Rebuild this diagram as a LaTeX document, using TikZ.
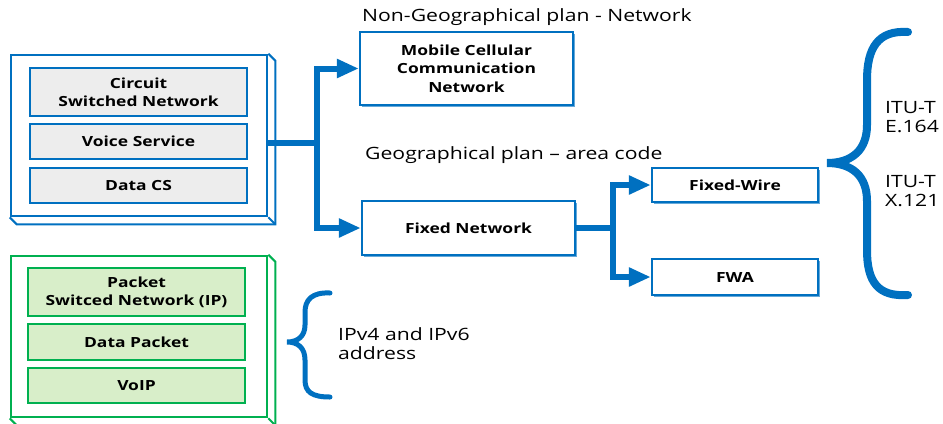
\documentclass[tikz,border=0pt]{standalone}
\usepackage{fontspec}
\setmainfont{Open Sans}[FakeStretch=1.25]
\usepackage{tikz}
\usetikzlibrary{arrows.meta}
\usetikzlibrary{calc}
\usetikzlibrary{positioning}
\usetikzlibrary{shadows}
\definecolor{itublue}{HTML}{0070C0}
\definecolor{ipgreen}{HTML}{00B050}
\definecolor{ipfill}{HTML}{D8EEC9}
\definecolor{csfill}{HTML}{EDEDED}

\begin{document}
\begin{tikzpicture}[x=1bp, y=-1bp,
    frame/.style={draw, line width=2.6bp, minimum width=256bp, minimum height=161bp},
    layer/.style={draw, line width=2.4bp, minimum width=217bp, align=center, inner sep=0pt,
      font=\bfseries\fontsize{14}{18}\selectfont},
    netbox/.style={draw=itublue, line width=2.4bp, fill=white, align=center, inner sep=0pt,
      font=\bfseries\fontsize{14}{18.5}\selectfont,
      drop shadow={shadow xshift=2bp, shadow yshift=-2bp, fill=itublue, opacity=0.6}},
    link/.style={itublue, line width=6bp},
    arr/.style={link, -{Triangle[length=22bp, width=18bp]}},
    brace/.style={itublue, line cap=round},
    lbl/.style={font=\fontsize{17}{19}\selectfont, align=left, anchor=west, inner sep=0pt}]
    \useasboundingbox (0,0) rectangle (943,423);

    \node[frame, draw=itublue] (A) at (139,135.5) {};
    \node[layer, draw=itublue, fill=csfill, minimum height=48bp] (A1) at (138.5,92) {Circuit\\Switched Network};
    \node[layer, draw=itublue, fill=csfill, minimum height=35bp] (A2) at (138.5,141.5) {Voice Service};
    \node[layer, draw=itublue, fill=csfill, minimum height=35bp] (A3) at (138.5,185.5) {Data CS};
    \draw[itublue, line width=2bp] (A.north east) -- ++(7,7) -- ($(A.south east)+(7,7)$) -- ($(A.south west)+(7,7)$) -- (A.south west);
    \draw[itublue, line width=2bp] (A.south east) -- ++(7,7);

    \node[frame, draw=ipgreen] (B) at (139,336.5) {};
    \node[layer, draw=ipgreen, fill=ipfill, minimum height=48bp] (B1) at (136.5,292) {Packet\\Switced Network (IP)};
    \node[layer, draw=ipgreen, fill=ipfill, minimum height=36bp] (B2) at (136.5,342) {Data Packet};
    \node[layer, draw=ipgreen, fill=ipfill, minimum height=35bp] (B3) at (136.5,385.5) {VoIP};
    \draw[ipgreen, line width=2bp] (B.north east) -- ++(7,7) -- ($(B.south east)+(7,7)$) -- ($(B.south west)+(7,7)$) -- (B.south west);
    \draw[ipgreen, line width=2bp] (B.south east) -- ++(7,7);

    \node[netbox, minimum width=213bp, minimum height=73bp] (M) at (466.5,68.5) {Mobile Cellular\\Communication\\Network};
    \node[netbox, minimum width=213bp, minimum height=54bp] (F) at (468.5,228) {Fixed Network};
    \node[netbox, minimum width=166bp, minimum height=34bp] (W) at (735,185) {Fixed-Wire};
    \node[netbox, minimum width=166bp, minimum height=36bp] (R) at (735,277) {FWA};

    \coordinate (J1) at (317,143);
    \coordinate (J2) at (613,228);
    \draw[link] (A.east |- J1) -- (J1);
    \draw[arr] (J1) |- (M);
    \draw[arr] (J1) |- (F);
    \draw[link] (F) -- (J2);
    \draw[arr] (J2) |- (W);
    \draw[arr] (J2) |- (R);

    \node[lbl] (NG) at (362,17) {Non-Geographical plan - Network};
    \node[lbl] (G) at (365,155) {Geographical plan – area code};
    \node[lbl] (E) at (885,117) {ITU-T\\E.164};
    \node[lbl] (X) at (885,191) {ITU-T\\X.121};
    \node[lbl] (IP) at (338,344) {IPv4 and IPv6\\address};

    \draw[brace, line width=8bp] (908,32) .. controls (878,30) and (867,48) .. (867,80) -- (867,125)
      .. controls (867,150) and (852,163) .. (827,163) .. controls (852,163) and (867,176) .. (867,201)
      -- (867,250) .. controls (867,282) and (878,297) .. (908,295);
    \draw[brace, line width=5bp] (330,293) .. controls (312,292) and (305,300) .. (305,312) -- (305,325)
      .. controls (305,336) and (298,342) .. (287,342) .. controls (298,342) and (305,348) .. (305,360)
      -- (305,380) .. controls (305,392) and (312,397) .. (330,397);
\end{tikzpicture}
\end{document}
